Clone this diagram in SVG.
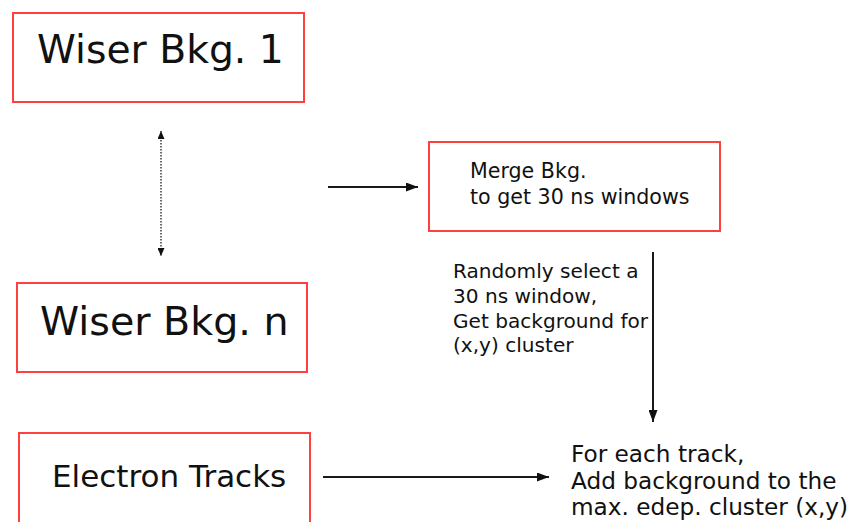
<svg xmlns="http://www.w3.org/2000/svg" width="851" height="522" viewBox="0 0 851 522">
<style>
.box{fill:#fff;stroke:#ff4040;stroke-width:2}
.t{font-family:"DejaVu Sans",sans-serif;fill:#111}
.c{fill:none;stroke:#1a1a1a;stroke-width:2}
.d{fill:none;stroke:#1a1a1a;stroke-width:1.3;stroke-dasharray:1.5,1.5}
</style>
<defs>
<marker id="ah" viewBox="0 0 12 9" refX="12" refY="4.5" markerWidth="12" markerHeight="9" markerUnits="userSpaceOnUse" orient="auto">
<path d="M0,0 L12,4.5 L0,9 Z" fill="#111"/>
</marker>
<marker id="ahs" viewBox="0 0 8 7" refX="8" refY="3.5" markerWidth="8" markerHeight="7" markerUnits="userSpaceOnUse" orient="auto-start-reverse">
<path d="M0,0 L8,3.5 L0,7 Z" fill="#111"/>
</marker>
</defs>
<rect width="851" height="522" fill="#fff"/>
<g id="wiser1">
<rect class="box" x="13" y="13" width="291" height="89"/>
<text class="t" x="37" y="63" font-size="39.3">Wiser Bkg. 1</text>
</g>
<g id="wisern">
<rect class="box" x="17" y="283" width="290" height="89"/>
<text class="t" x="40" y="335" font-size="39.6">Wiser Bkg. n</text>
</g>
<g id="electron">
<rect class="box" x="19" y="433" width="291" height="100"/>
<text class="t" x="52" y="487" font-size="31">Electron Tracks</text>
</g>
<g id="merge">
<rect class="box" x="429" y="142" width="291" height="89"/>
<text class="t" font-size="20.6"><tspan x="470" y="178">Merge Bkg.</tspan><tspan x="470" y="204">to get 30 ns windows</tspan></text>
</g>
<g id="result">
<text class="t" font-size="23.2"><tspan x="571" y="462">For each track,</tspan><tspan x="571" y="488.5">Add background to the</tspan><tspan x="571" y="515">max. edep. cluster (x,y)</tspan></text>
</g>
<g id="connectors">
<line class="d" x1="161" y1="131" x2="161" y2="256" marker-start="url(#ahs)" marker-end="url(#ahs)"/>
<line class="c" x1="328" y1="187" x2="418" y2="187" marker-end="url(#ah)"/>
<line class="c" x1="653" y1="252" x2="653" y2="422" marker-end="url(#ah)"/>
<line class="c" x1="323" y1="477" x2="549" y2="477" marker-end="url(#ah)"/>
<text class="t" font-size="20.1"><tspan x="453" y="278">Randomly select a</tspan><tspan x="453" y="303">30 ns window,</tspan><tspan x="453" y="327.5">Get background for</tspan><tspan x="453" y="352">(x,y) cluster</tspan></text>
</g>
</svg>
